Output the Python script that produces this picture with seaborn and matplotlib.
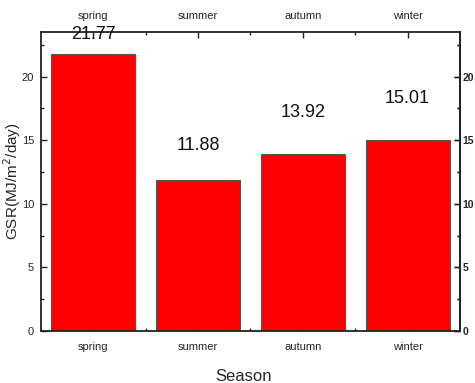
import matplotlib
matplotlib.use("Agg")
import matplotlib.pyplot as plt
from matplotlib.ticker import FixedLocator, MultipleLocator
import seaborn as sns
import pandas as pd

# Seasonal mean global solar radiation
seasons = ["spring", "summer", "autumn", "winter"]
gsr_values = [21.77, 11.88, 13.92, 15.01]
y_ticks = [0, 5, 10, 15, 20]

# vertical offset of each value label above its bar (data units)
label_offsets = [1.5, 2.7, 3.25, 3.25]

sns.set_theme(style="white")
plt.rcParams["font.family"] = ["Liberation Sans", "DejaVu Sans"]

df = pd.DataFrame({"Season": seasons, "GSR": gsr_values})

fig = plt.figure(figsize=(4.75, 3.83), dpi=100)
ax = fig.add_axes([0.0863, 0.1358, 0.8821, 0.7806])

sns.barplot(data=df, x="Season", y="GSR", order=seasons, color="#ff0000",
            saturation=1, width=0.8, edgecolor="#555555", linewidth=0.8, ax=ax)

ax.set_xlim(-0.5, 3.5)
ax.set_ylim(0, 23.5)

for i, (v, off) in enumerate(zip(gsr_values, label_offsets)):
    ax.text(i, v + off, f"{v:.2f}", ha="center", va="center", fontsize=13,
            color="#111111")

for s in ax.spines.values():
    s.set_visible(True)
    s.set_color("#222222")
    s.set_linewidth(1.3)

ax.set_yticks(y_ticks)
ax.yaxis.set_minor_locator(MultipleLocator(2.5))
ax.xaxis.set_minor_locator(FixedLocator([0.5, 1.5, 2.5]))
ax.tick_params(axis="both", which="major", direction="in", length=4, width=1,
               color="#222222", labelsize=8, pad=5)
ax.tick_params(axis="both", which="minor", direction="in", length=2.5, width=1,
               color="#222222")
ax.tick_params(axis="x", which="both", top=True, labeltop=True, bottom=True,
               labelbottom=True, pad=8)
ax.tick_params(axis="y", which="both", left=True, right=True)

ax.set_xlabel("Season", fontsize=12)
ax.xaxis.set_label_coords(0.483, -0.128)
ax.set_ylabel("GSR(MJ/m$^2$/day)", fontsize=11)
ax.yaxis.set_label_coords(-0.043, 0.5)

# right-hand axis repeating the y scale, bold labels
ax_r = ax.secondary_yaxis("right")
ax_r.set_yticks(y_ticks)
ax_r.yaxis.set_minor_locator(MultipleLocator(2.5))
ax_r.tick_params(axis="y", which="major", direction="in", length=4, width=1,
                 color="#222222", labelsize=7.5, pad=2)
ax_r.tick_params(axis="y", which="minor", direction="in", length=2.5, width=1,
                 color="#222222")
for lab in ax_r.get_yticklabels():
    lab.set_fontweight("bold")
ax_r.spines["right"].set_color("#222222")
ax_r.spines["right"].set_linewidth(1.3)

fig.savefig("out.png", dpi=100)
